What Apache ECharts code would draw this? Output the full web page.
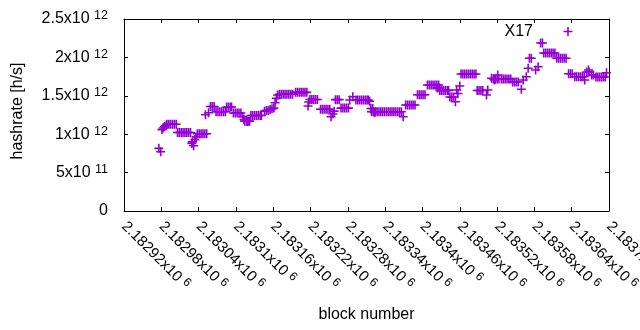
<!DOCTYPE html>
<html><head><meta charset="utf-8">
<script src="https://cdn.jsdelivr.net/npm/echarts@6/dist/echarts.min.js"></script>
<style>html,body{margin:0;padding:0;background:#fff}#c{width:640px;height:330px}</style>
</head><body><div id="c"></div><script>
const seriesName = 'X17';
// [block number, hashrate in units of 10^12 h/s]
const x17Points = [
[2182976,0.816],[2182979,0.772],
[2182981,1.06],[2182983,1.08],[2182985,1.10],[2182988,1.12],
[2182989,1.13],[2182992,1.13],[2182995,1.13],[2182998,1.13],[2183001,1.13],[2183004,1.13],
[2183006,1.022],[2183009,1.022],[2183012,1.022],[2183015,1.022],[2183018,1.022],[2183021,1.022],[2183024,1.022],[2183027,1.022],
[2183029,0.88],[2183030,0.90],[2183032,0.85],[2183034,0.93],[2183036,0.965],
[2183038,1.005],[2183041,1.005],[2183044,1.005],[2183047,1.005],[2183050,1.005],[2183053,1.005],
[2183051,1.254],[2183056,1.28],
[2183059,1.36],[2183062,1.36],[2183065,1.36],
[2183068,1.293],[2183071,1.293],[2183074,1.293],[2183077,1.293],[2183080,1.293],[2183083,1.293],
[2183085,1.354],[2183088,1.354],[2183091,1.354],[2183093,1.354],
[2183096,1.276],[2183099,1.276],[2183102,1.276],[2183105,1.276],[2183108,1.276],
[2183111,1.228],[2183113,1.19],[2183118,1.165],[2183114,1.17],[2183117,1.17],[2183120,1.17],[2183122,1.17],
[2183124,1.243],[2183127,1.243],[2183130,1.243],[2183133,1.243],[2183136,1.243],[2183139,1.243],[2183141,1.243],
[2183146,1.30],[2183149,1.31],[2183152,1.31],[2183155,1.32],[2183158,1.33],[2183161,1.34],
[2183163,1.41],[2183165,1.467],[2183167,1.51],
[2183170,1.52],[2183173,1.52],[2183176,1.52],[2183179,1.52],[2183182,1.52],[2183185,1.52],[2183188,1.52],[2183191,1.52],
[2183196,1.545],[2183199,1.545],[2183202,1.545],[2183205,1.545],[2183208,1.545],[2183211,1.545],[2183214,1.545],
[2183216,1.367],[2183217,1.42],
[2183219,1.452],[2183222,1.452],[2183225,1.452],[2183228,1.452],[2183231,1.452],
[2183236,1.324],[2183239,1.324],[2183242,1.324],[2183245,1.324],[2183248,1.324],[2183251,1.324],
[2183253,1.228],[2183256,1.263],[2183258,1.30],
[2183260,1.45],[2183263,1.45],[2183266,1.45],
[2183269,1.34],[2183272,1.34],[2183275,1.34],[2183278,1.34],[2183281,1.34],
[2183283,1.445],[2183288,1.488],
[2183293,1.445],[2183296,1.445],[2183299,1.445],[2183302,1.445],[2183305,1.445],[2183308,1.445],[2183311,1.445],[2183313,1.445],
[2183315,1.43],[2183317,1.335],[2183320,1.335],[2183323,1.28],
[2183318,1.293],[2183321,1.293],[2183324,1.293],[2183327,1.293],[2183330,1.293],[2183333,1.293],[2183336,1.293],[2183339,1.293],[2183342,1.293],
[2183345,1.293],[2183348,1.293],[2183351,1.293],[2183354,1.293],[2183357,1.293],[2183360,1.293],[2183363,1.293],[2183366,1.293],
[2183369,1.228],
[2183373,1.38],[2183376,1.38],[2183379,1.38],[2183382,1.38],[2183385,1.38],[2183388,1.38],
[2183392,1.514],[2183395,1.514],[2183398,1.514],[2183401,1.514],[2183404,1.514],
[2183408,1.64],[2183411,1.64],[2183414,1.64],[2183417,1.64],[2183420,1.64],[2183423,1.64],[2183426,1.64],
[2183424,1.60],[2183427,1.60],
[2183428,1.57],[2183431,1.57],[2183434,1.57],[2183437,1.57],[2183440,1.57],[2183442,1.57],
[2183444,1.484],[2183447,1.484],[2183450,1.484],
[2183453,1.423],[2183455,1.575],[2183457,1.53],[2183460,1.628],
[2183462,1.784],[2183465,1.784],[2183468,1.784],[2183471,1.784],[2183474,1.784],[2183477,1.784],[2183480,1.784],[2183483,1.784],[2183486,1.784],
[2183488,1.569],[2183491,1.569],[2183494,1.569],[2183497,1.569],
[2183503,1.51],[2183505,1.575],
[2183511,1.728],[2183514,1.72],[2183517,1.72],[2183520,1.72],[2183523,1.72],[2183516,1.706],[2183521,1.771],
[2183527,1.72],[2183530,1.72],[2183533,1.72],[2183536,1.72],[2183539,1.72],[2183542,1.72],
[2183545,1.68],[2183548,1.68],[2183551,1.68],[2183554,1.68],
[2183559,1.585],[2183562,1.706],[2183567,1.749],[2183570,1.858],
[2183572,1.988],[2183575,1.988],
[2183582,1.836],[2183586,1.879],
[2183590,2.188],[2183593,2.188],
[2183595,2.057],[2183598,2.057],[2183601,2.057],[2183604,2.057],[2183607,2.057],[2183610,2.057],[2183613,2.057],
[2183616,1.988],[2183619,1.988],[2183622,1.988],[2183625,1.988],[2183628,1.988],[2183631,1.988],
[2183635,1.788],[2183638,1.788],[2183641,1.788],
[2183645,1.749],[2183648,1.749],[2183651,1.749],[2183654,1.749],[2183657,1.749],[2183660,1.749],[2183661,1.706],
[2183664,1.81],[2183667,1.836],[2183668,1.81],
[2183672,1.77],[2183675,1.77],
[2183679,1.745],[2183682,1.745],[2183685,1.745],[2183688,1.745],[2183691,1.745],[2183694,1.745],
[2183696,1.80]
];
const xMin = 2182920, xMax = 2183700, xStep = 60;
const yMin = 0, yMax = 2.5e12, yStep = 0.5e12;
const xTickLabels = ['2.18292x10^6','2.18298x10^6','2.18304x10^6','2.1831x10^6','2.18316x10^6','2.18322x10^6','2.18328x10^6',
  '2.18334x10^6','2.1834x10^6','2.18346x10^6','2.18352x10^6','2.18358x10^6','2.18364x10^6','2.1837x10^6'];
const yTickLabels = ['0','5x10^11','1x10^12','1.5x10^12','2x10^12','2.5x10^12'];
const xTitle = 'block number', yTitle = 'hashrate [h/s]';

const FONT = 'Liberation Sans';
function richSup(main, sup) {
  return {
    m: {fontSize: main, fontFamily: FONT, color: '#000'},
    s: {fontSize: sup, fontFamily: FONT, color: '#000', padding: [0, 0, 6, 0]}
  };
}
function supText(label) {
  if (!label) return '';
  const parts = label.split('^');
  return parts.length > 1 ? '{m|' + parts[0] + ' }{s|' + parts[1] + '}' : '{m|' + parts[0] + '}';
}
const plusPath = 'path://M3.7,0H5.3V9H3.7Z M0,3.7H9V5.3H0Z';
const black = '#000';
const axisLineStyle = {color: black, width: 1};
const tickStyle = {show: true, inside: true, length: 4, lineStyle: {color: black, width: 1}};

const chart = echarts.init(document.getElementById('c'), null, {renderer: 'canvas'});
chart.setOption({
  animation: false,
  backgroundColor: '#fff',
  grid: {left: 124, right: 31, top: 19, bottom: 119, containLabel: false, outerBoundsMode: 'none'},
  legend: {
    show: true, data: [seriesName], right: 67.5, top: 23.5, padding: 0, align: 'right',
    itemWidth: 9, itemHeight: 9, selectedMode: false,
    formatter: function (n) { return '{t|' + n + '}'; },
    textStyle: {rich: {t: {fontSize: 16, fontFamily: FONT, color: black, padding: [0, 25.5, 0, 0]}}}
  },
  xAxis: [{
    type: 'value', min: xMin, max: xMax, interval: xStep, position: 'bottom',
    name: xTitle, nameLocation: 'middle', nameGap: 96, nameMoveOverlap: false,
    nameTextStyle: {fontSize: 16, fontFamily: FONT, color: black},
    axisLine: {show: true, onZero: false, lineStyle: axisLineStyle},
    axisTick: tickStyle, splitLine: {show: false},
    axisLabel: {
      show: true, rotate: -45, margin: 13, hideOverlap: false, showMinLabel: true, showMaxLabel: true,
      formatter: function (v) { return supText(xTickLabels[Math.round((v - xMin) / xStep)]); },
      rich: richSup(15, 12)
    }
  }, {
    type: 'value', min: xMin, max: xMax, interval: xStep, position: 'top',
    axisLine: {show: true, onZero: false, lineStyle: axisLineStyle},
    axisTick: tickStyle, axisLabel: {show: false}, splitLine: {show: false}
  }],
  yAxis: [{
    type: 'value', min: yMin, max: yMax, interval: yStep, position: 'left',
    name: yTitle, nameLocation: 'middle', nameGap: 98, nameMoveOverlap: false,
    nameTextStyle: {fontSize: 16, fontFamily: FONT, color: black, padding: [0, 0, 0, 8]},
    axisLine: {show: true, onZero: false, lineStyle: axisLineStyle},
    axisTick: tickStyle, splitLine: {show: false},
    axisLabel: {
      show: true, margin: 16, showMinLabel: true, showMaxLabel: true,
      formatter: function (v) { return supText(yTickLabels[Math.round(v / yStep)]); },
      rich: richSup(16, 12.5)
    }
  }, {
    type: 'value', min: yMin, max: yMax, interval: yStep, position: 'right',
    axisLine: {show: true, onZero: false, lineStyle: axisLineStyle},
    axisTick: tickStyle, axisLabel: {show: false}, splitLine: {show: false}
  }],
  series: [{
    name: seriesName, type: 'scatter', xAxisIndex: 0, yAxisIndex: 0,
    symbol: plusPath, symbolSize: 9, clip: false, silent: true,
    itemStyle: {color: '#9400d3', opacity: 1},
    emphasis: {disabled: true},
    data: x17Points.map(function (p) { return [p[0], p[1] * 1e12]; })
  }]
});
</script></body></html>
